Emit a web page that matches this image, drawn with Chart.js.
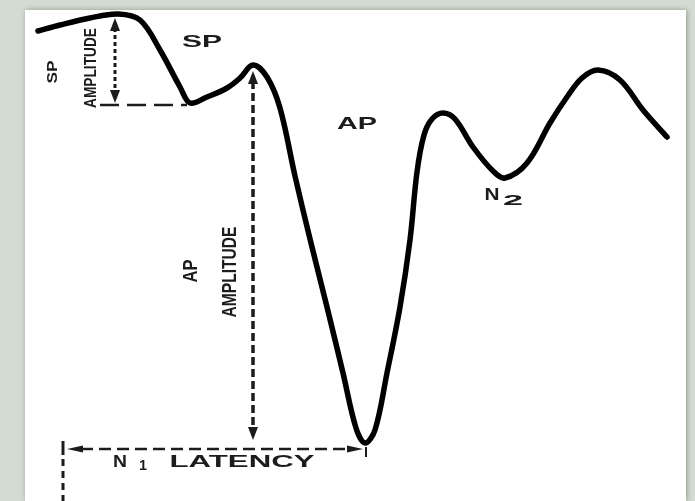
<!DOCTYPE html>
<html>
<head>
<meta charset="utf-8">
<script src="https://cdn.jsdelivr.net/npm/chart.js@4.4.0/dist/chart.umd.min.js"></script>
<style>
  html, body { margin: 0; padding: 0; }
  body { width: 695px; height: 501px; background: #d4dbd1; position: relative; overflow: hidden; }
  #panel {
    position: absolute; left: 25px; top: 10px; width: 661px; height: 491px;
    background: #fff; box-shadow: 1px 0 5px rgba(60, 70, 55, 0.45);
  }
</style>
</head>
<body>
<div id="panel"><canvas id="chart"></canvas></div>
<script>
// waveform, time in ms, amplitude in uV
const timeMs = [0.13, 0.35, 0.65, 0.93, 1.15, 1.35, 1.55, 1.65, 1.82, 2.02, 2.15, 2.28,
  2.42, 2.55, 2.70, 2.86, 3.02, 3.18, 3.31, 3.40, 3.50, 3.62, 3.75, 3.85, 3.92, 3.99,
  4.07, 4.18, 4.30, 4.48, 4.68, 4.80, 5.02, 5.25, 5.42, 5.57, 5.73, 5.95, 6.18, 6.42];
const amplitudeUv = [0.79, 0.85, 0.92, 0.96, 0.90, 0.60, 0.23, 0.07, 0.13, 0.22, 0.32, 0.45,
  0.33, 0.02, -0.66, -1.33, -1.97, -2.63, -3.18, -3.33, -3.20, -2.63, -1.97, -1.30, -0.62, -0.25,
  -0.09, -0.03, -0.09, -0.37, -0.61, -0.68, -0.53, -0.13, 0.13, 0.32, 0.40, 0.30, 0.00, -0.27];

// measurement markers
const spAmplitude = [0.93, 0.96, 0.06];   // time, top, bottom
const apAmplitude = [2.28, 0.43, -3.30];  // time, top, bottom
const n1Latency = [0.38, 3.38, -3.37];    // onset time, N1 time, level

function drawText(ctx, str, cx, cy, w, capH, rotate) {
  ctx.save();
  ctx.font = 'bold ' + (capH / 0.72) + 'px "Liberation Sans", Arial, sans-serif';
  ctx.fillStyle = '#1c1c1c';
  ctx.textAlign = 'center';
  ctx.textBaseline = 'alphabetic';
  ctx.translate(cx, cy);
  if (rotate) ctx.rotate(-Math.PI / 2);
  const m = ctx.measureText(str).width;
  ctx.scale(w / m, 1);
  ctx.fillText(str, 0, capH / 2);
  ctx.restore();
}

function arrowHead(ctx, x, y, dir, len, half) {
  // dir: 'up' | 'down' | 'left' | 'right', tip at x,y
  ctx.beginPath();
  ctx.moveTo(x, y);
  if (dir === 'up') { ctx.lineTo(x - half, y + len); ctx.lineTo(x + half, y + len); }
  if (dir === 'down') { ctx.lineTo(x - half, y - len); ctx.lineTo(x + half, y - len); }
  if (dir === 'left') { ctx.lineTo(x + len, y - half); ctx.lineTo(x + len, y + half); }
  if (dir === 'right') { ctx.lineTo(x - len, y - half); ctx.lineTo(x - len, y + half); }
  ctx.closePath();
  ctx.fill();
}

function dashed(ctx, x1, y1, x2, y2, dash, width) {
  ctx.save();
  ctx.setLineDash(dash);
  ctx.lineWidth = width;
  ctx.beginPath();
  ctx.moveTo(x1, y1);
  ctx.lineTo(x2, y2);
  ctx.stroke();
  ctx.restore();
}

const markers = {
  id: 'markers',
  beforeDatasetsDraw(chart) {
    const ctx = chart.ctx;
    const x = chart.scales.x, y = chart.scales.y;
    ctx.save();
    ctx.strokeStyle = '#1c1c1c';
    ctx.fillStyle = '#1c1c1c';

    // SP amplitude
    const sx = x.getPixelForValue(spAmplitude[0]) - 3;
    const sTop = y.getPixelForValue(spAmplitude[1]) + 4;
    const sBot = y.getPixelForValue(spAmplitude[2]) - 1;
    dashed(ctx, sx, sTop + 10, sx, sBot - 10, [4, 3], 3);
    arrowHead(ctx, sx, sTop, 'up', 13, 5);
    arrowHead(ctx, sx, sBot, 'down', 13, 5);
    dashed(ctx, sx - 15, sBot + 2, x.getPixelForValue(1.62), sBot + 2, [19, 8], 2.5);

    // AP amplitude
    const ax = x.getPixelForValue(apAmplitude[0]);
    const aTop = y.getPixelForValue(apAmplitude[1]) + 4;
    const aBot = y.getPixelForValue(apAmplitude[2]);
    dashed(ctx, ax, aTop + 10, ax, aBot - 10, [8, 4], 3.5);
    arrowHead(ctx, ax, aTop, 'up', 13, 5);
    arrowHead(ctx, ax, aBot, 'down', 13, 5);

    // N1 latency
    const lx1 = x.getPixelForValue(n1Latency[0]);
    const lx2 = x.getPixelForValue(n1Latency[1]);
    const ly = y.getPixelForValue(n1Latency[2]) + 2;
    dashed(ctx, lx1 + 18, ly, lx2 - 16, ly, [12, 6], 2.5);
    arrowHead(ctx, lx1 + 4, ly, 'left', 16, 3.5);
    arrowHead(ctx, lx2, ly, 'right', 16, 3.5);
    ctx.lineWidth = 3;
    ctx.beginPath();
    ctx.moveTo(lx1, ly - 8); ctx.lineTo(lx1, ly + 6); ctx.stroke();
    ctx.lineWidth = 2;
    ctx.beginPath();
    ctx.moveTo(lx2 + 3, ly - 2); ctx.lineTo(lx2 + 3, ly + 8); ctx.stroke();
    dashed(ctx, lx1, ly + 10, lx1, chart.height, [7, 5], 3);

    // labels (panel coordinates)
    drawText(ctx, 'SP', 177, 31, 40, 12, false);
    drawText(ctx, 'AP', 332, 113, 40, 12, false);
    drawText(ctx, 'N', 467, 184, 15, 12, false);
    drawText(ctx, '2', 488, 189, 20, 11, false);
    drawText(ctx, 'N', 95, 451, 14, 12, false);
    drawText(ctx, '1', 118, 455, 8, 10, false);
    drawText(ctx, 'LATENCY', 217, 451, 145, 12, false);
    drawText(ctx, 'SP', 27, 62, 23, 10, true);
    drawText(ctx, 'AMPLITUDE', 65, 58, 80, 12, true);
    drawText(ctx, 'AP', 165, 261, 23, 14, true);
    drawText(ctx, 'AMPLITUDE', 203, 262, 91, 15, true);
    ctx.restore();
  }
};

new Chart(document.getElementById('chart'), {
  type: 'line',
  data: {
    datasets: [{
      data: timeMs.map((t, i) => ({ x: t, y: amplitudeUv[i] })),
      borderColor: '#000',
      borderWidth: 5.5,
      pointRadius: 0,
      tension: 0.35,
      borderCapStyle: 'round',
      borderJoinStyle: 'round',
      clip: false
    }]
  },
  options: {
    responsive: true,
    maintainAspectRatio: false,
    animation: false,
    layout: { padding: 0 },
    plugins: { legend: { display: false }, tooltip: { enabled: false } },
    scales: {
      x: { type: 'linear', min: 0, max: 6.61, display: false },
      y: { type: 'linear', min: -3.91, max: 1, display: false }
    }
  },
  plugins: [markers]
});
</script>
</body>
</html>
